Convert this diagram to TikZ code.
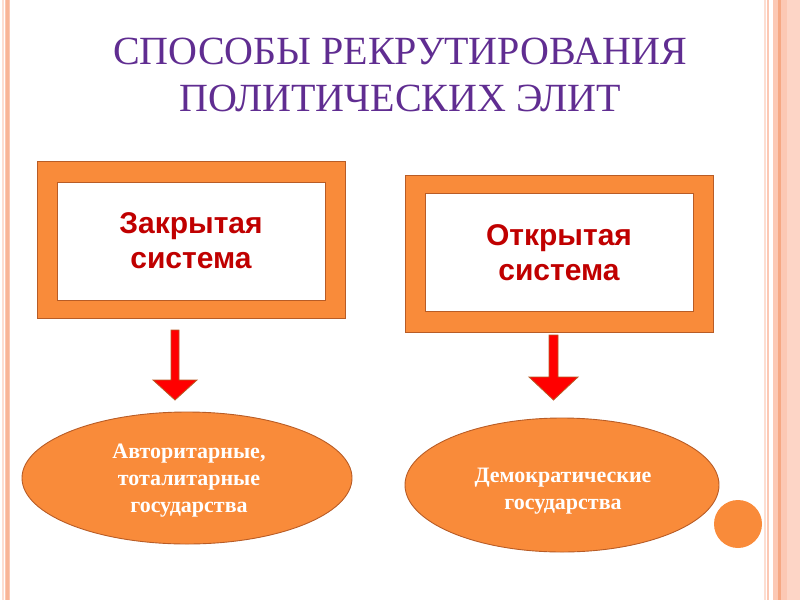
\documentclass[tikz,border=0pt]{standalone}
\usepackage{fontspec}
\setmainfont{Liberation Serif}
\newfontfamily\boxfont{Liberation Sans}
\usetikzlibrary{shapes.geometric}
\definecolor{titlepurple}{RGB}{96,45,145}
\definecolor{boxorange}{RGB}{249,139,58}
\definecolor{edgebrown}{RGB}{184,92,38}
\definecolor{boxred}{RGB}{192,0,0}
\definecolor{arrowred}{RGB}{255,0,0}
\definecolor{palelight}{RGB}{253,222,210}
\definecolor{pale}{RGB}{252,200,180}
\definecolor{paledark}{RGB}{246,168,132}
\tikzset{
  outerbox/.style={draw=edgebrown, line width=0.8pt, fill=boxorange, minimum width=308, minimum height=157, inner sep=0},
  innerbox/.style={draw=edgebrown, line width=0.8pt, fill=white, minimum width=268, minimum height=118, inner sep=0,
    align=center, text=boxred, font=\boxfont\bfseries\fontsize{30}{35}\selectfont},
  stateoval/.style={ellipse, draw=edgebrown, line width=0.9pt, fill=boxorange, inner sep=0},
  ovaltext/.style={align=center, text=white, inner sep=0, font=\bfseries\fontsize{22}{27}\selectfont},
  blockarrow/.style={draw=edgebrown, line width=0.8pt, fill=arrowred, line join=miter}
}
\begin{document}
\begin{tikzpicture}[x=1pt,y=-1pt]
\useasboundingbox (0,0) rectangle (800,600);
% side stripes
\fill[palelight] (1.5,0) rectangle (3.5,600);
\fill[pale] (4.5,0) rectangle (9.5,600);
\fill[paledark!60!pale] (6,0) rectangle (8.5,600);
\fill[palelight] (764,0) rectangle (766,600);
\fill[pale] (767,0) rectangle (769,600);
\fill[pale] (773,0) rectangle (800,600);
\fill[paledark] (778,0) rectangle (781,600);
\fill[palelight!60!pale] (787,0) rectangle (800,600);
% title
\node (title) [align=center, text=titlepurple, font=\fontsize{40}{47}\selectfont] at (400,75)
  {СПОСОБЫ РЕКРУТИРОВАНИЯ\\ПОЛИТИЧЕСКИХ ЭЛИТ};
% boxes
\node (closedframe) [outerbox] at (191,240) {};
\node (closed) [innerbox] at (191,241) {Закрытая\\система};
\node (openframe) [outerbox] at (559,253.5) {};
\node (open) [innerbox] at (559,252.5) {Открытая\\система};
% ovals
\node (auth) [stateoval, minimum width=330, minimum height=132] at (187,478) {};
\node (authtext) [ovaltext] at (189,481) {Авторитарные,\\тоталитарные\\государства};
\node (demo) [stateoval, minimum width=314, minimum height=134] at (562,485) {};
\node (demotext) [ovaltext] at (563,491) {Демократические\\государства};
\node (dot) [circle, fill=boxorange, minimum size=48, inner sep=0] at (738,524) {};
% block arrows
\draw[blockarrow] (171,330) -- (179,330) -- (179,380) -- (197,380) -- (175,400) -- (153,380) -- (171,380) -- cycle;
\draw[blockarrow] (549,335) -- (558,335) -- (558,377) -- (578,377) -- (553.5,400) -- (529,377) -- (549,377) -- cycle;
\end{tikzpicture}
\end{document}
